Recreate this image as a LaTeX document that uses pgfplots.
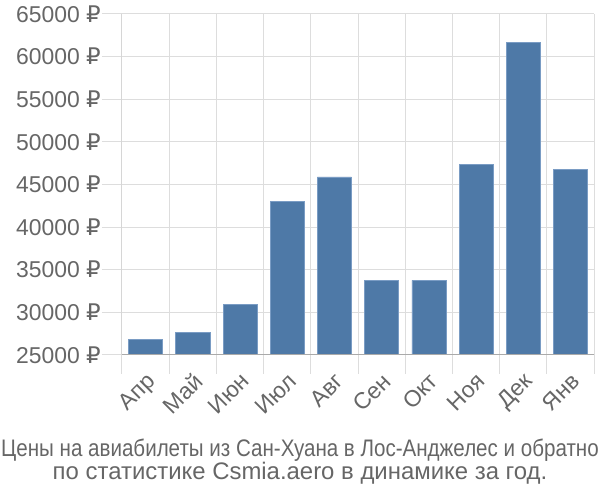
\documentclass[border=0pt]{standalone}
\usepackage{pgfplots}
\pgfplotsset{compat=1.18}
\usepackage{fontspec}
\setmainfont{Liberation Sans}
\newfontfamily\rub{DejaVu Sans}
\definecolor{barblue}{HTML}{4E79A7}
\definecolor{baredge}{HTML}{7A9CC4}
\definecolor{gridc}{HTML}{DDDDDD}
\definecolor{axisc}{HTML}{AAAAAA}
\definecolor{txt}{HTML}{666666}
\begin{document}
\begin{tikzpicture}
\begin{axis}[
    name=ax,
    scale only axis,
    width=472bp, height=341bp,
    xmin=-0.5, xmax=9.5,
    ymin=25000, ymax=65000,
    ytick={25000,30000,...,65000},
    scaled y ticks=false,
    xtick={0,...,9},
    xticklabels={Апр,Май,Июн,Июл,Авг,Сен,Окт,Ноя,Дек,Янв},
    minor xtick={-0.5,0.5,...,9.5},
    xmajorgrids=false, xminorgrids=true, ymajorgrids=true,
    grid style={gridc, line width=1bp},
    minor grid style={gridc, line width=1bp},
    axis line style={draw=none},
    tick pos=left,
    tick align=outside,
    major tick length=20bp,
    minor tick length=19bp,
    major x tick style={draw=none},
    minor x tick style={gridc, line width=1bp},
    y tick style={gridc, line width=1bp},
    /pgf/number format/assume math mode=true,
    /pgf/number format/1000 sep={},
    yticklabel={\pgfmathprintnumber{\tick}~{\rub ₽}},
    yticklabel style={font=\fontsize{23}{24}\selectfont, text=txt, inner sep=1bp},
    xticklabel style={font=\fontsize{23}{24}\selectfont, text=txt, rotate=45, anchor=north east, inner sep=1bp, xshift=3bp, yshift=4bp},
    ybar, bar width=34bp, bar shift=0pt,
]
\addplot[fill=barblue, draw=baredge, line width=0.6bp] coordinates {
    (0, 26840)
    (1, 27660)
    (2, 30950)
    (3, 43060)
    (4, 45880)
    (5, 33760)
    (6, 33760)
    (7, 47400)
    (8, 61680)
    (9, 46780)
};
\draw[axisc, line width=1bp] (rel axis cs:0,0) -- (rel axis cs:1,0);
\draw[axisc, line width=1bp] (rel axis cs:0,1) -- ([yshift=-19bp]rel axis cs:0,0);
\end{axis}
\node[text=txt, anchor=base, font=\fontsize{24}{25}\selectfont]
    at ([xshift=178bp, yshift=-102bp]ax.south west)
    {\scalebox{0.86}[1]{Цены на авиабилеты из Сан-Хуана в Лос-Анджелес и обратно}};
\node[text=txt, anchor=base, font=\fontsize{24}{25}\selectfont]
    at ([xshift=178bp, yshift=-125bp]ax.south west)
    {по статистике Csmia.aero в динамике за год.};
\pgfresetboundingbox
\path ([xshift=-122bp, yshift=-145bp]ax.south west) rectangle ([xshift=6bp, yshift=14bp]ax.north east);
\end{tikzpicture}
\end{document}
